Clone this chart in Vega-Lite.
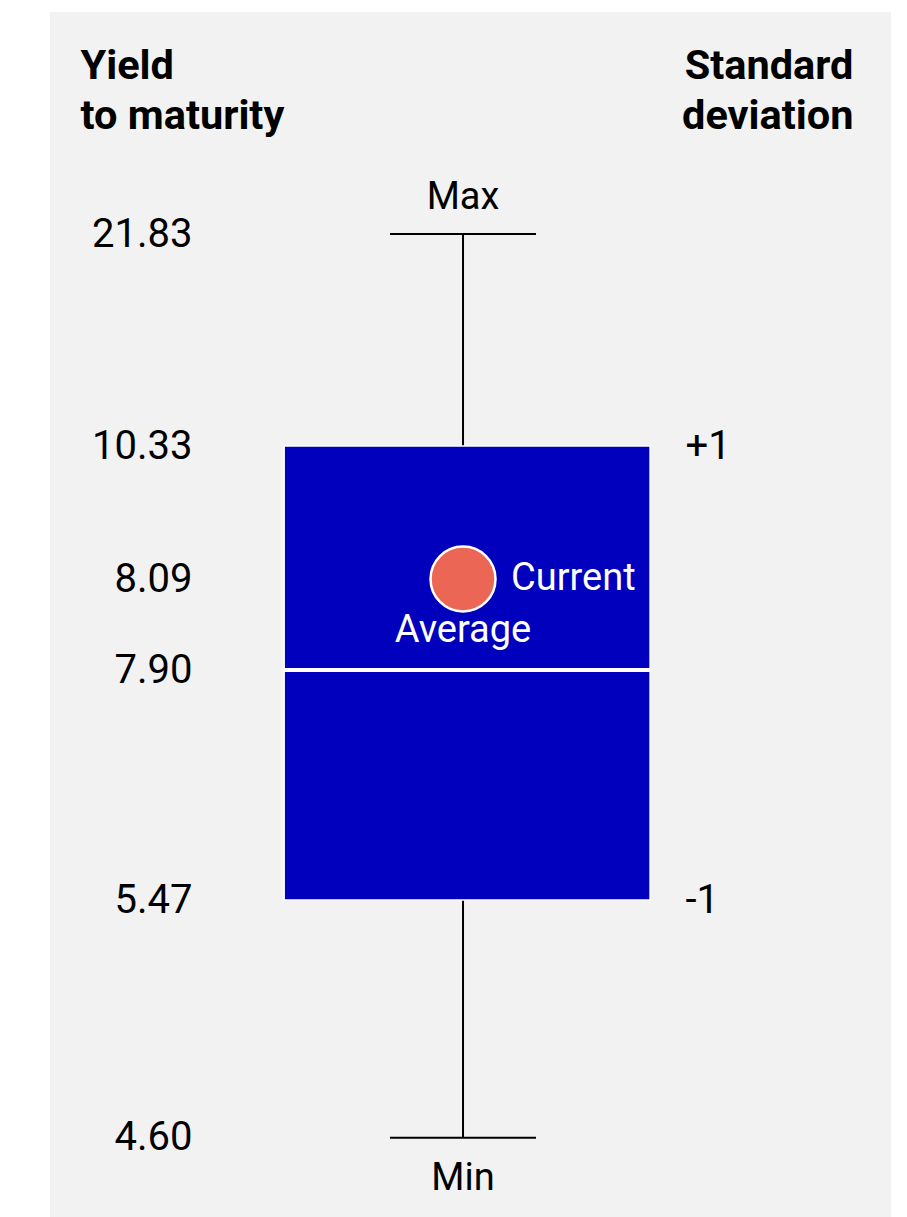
{
  "$schema": "https://vega.github.io/schema/vega-lite/v6.json",
  "width": 841,
  "height": 1205,
  "autosize": {"type": "none"},
  "padding": {"left": 50, "top": 12, "right": 16, "bottom": 0},
  "background": "#ffffff",
  "config": {
    "view": {"stroke": null, "fill": "#f2f2f2"},
    "font": "Roboto"
  },
  "data": {"values": [{"min": 4.60, "lower": 5.47, "average": 7.90, "current": 8.09, "upper": 10.33, "max": 21.83}]},
  "resolve": {"scale": {"y": "independent"}, "axis": {"y": "independent"}},
  "layer": [
    {
      "mark": {"type": "rule", "color": "#000000", "strokeWidth": 2},
      "encoding": {
        "x": {"datum": 0, "type": "quantitative", "scale": {"domain": [-2.263, 2.345], "nice": false, "zero": false}, "axis": null},
        "y": {
          "field": "min", "type": "quantitative",
          "scale": {"domain": [4.60, 5.47, 7.90, 8.09, 10.33, 21.83], "range": [1125.7, 888, 658, 567, 434, 222], "nice": false, "zero": false},
          "axis": {
            "orient": "left",
            "values": [4.60, 5.47, 7.90, 8.09, 10.33, 21.83],
            "format": ".2f",
            "domain": false, "ticks": false, "grid": false,
            "offset": -142, "labelPadding": 0,
            "labelAlign": "right", "labelBaseline": "middle",
            "labelFont": "Roboto", "labelFontSize": 40, "labelColor": "#000000",
            "labelOverlap": false, "labelFlush": false, "labelBound": false,
            "title": ["Yield", "to maturity"],
            "titleFont": "Roboto", "titleFontSize": 41.5, "titleFontWeight": "bold", "titleColor": "#000000",
            "titleAngle": 0, "titleAlign": "left", "titleBaseline": "alphabetic",
            "titleX": -112, "titleY": 66, "titleLineHeight": 50
          }
        },
        "y2": {"field": "max"}
      }
    },
    {
      "mark": {"type": "rule", "color": "#000000", "strokeWidth": 2},
      "encoding": {
        "x": {"datum": -0.4, "type": "quantitative"},
        "x2": {"datum": 0.4},
        "y": {"field": "max", "type": "quantitative", "scale": {"domain": [4.60, 5.47, 7.90, 8.09, 10.33, 21.83], "range": [1125.7, 888, 658, 567, 434, 222], "nice": false, "zero": false}, "axis": null}
      }
    },
    {
      "mark": {"type": "rule", "color": "#000000", "strokeWidth": 2},
      "encoding": {
        "x": {"datum": -0.4, "type": "quantitative"},
        "x2": {"datum": 0.4},
        "y": {"field": "min", "type": "quantitative", "scale": {"domain": [4.60, 5.47, 7.90, 8.09, 10.33, 21.83], "range": [1125.7, 888, 658, 567, 434, 222], "nice": false, "zero": false}, "axis": null}
      }
    },
    {
      "mark": {"type": "text", "text": "Max", "font": "Roboto", "fontSize": 38, "color": "#000000", "align": "center", "baseline": "alphabetic", "dy": -25},
      "encoding": {
        "x": {"datum": 0, "type": "quantitative"},
        "y": {"field": "max", "type": "quantitative", "scale": {"domain": [4.60, 5.47, 7.90, 8.09, 10.33, 21.83], "range": [1125.7, 888, 658, 567, 434, 222], "nice": false, "zero": false}, "axis": null}
      }
    },
    {
      "mark": {"type": "text", "text": "Min", "font": "Roboto", "fontSize": 38, "color": "#000000", "align": "center", "baseline": "alphabetic", "dy": 52},
      "encoding": {
        "x": {"datum": 0, "type": "quantitative"},
        "y": {"field": "min", "type": "quantitative", "scale": {"domain": [4.60, 5.47, 7.90, 8.09, 10.33, 21.83], "range": [1125.7, 888, 658, 567, 434, 222], "nice": false, "zero": false}, "axis": null}
      }
    },
    {
      "mark": {"type": "rect", "color": "#0000bd", "stroke": "#ffffff", "strokeWidth": 1.5},
      "encoding": {
        "x": {"datum": -0.98, "type": "quantitative"},
        "x2": {"datum": 1.025},
        "y": {
          "field": "lower", "type": "quantitative",
          "scale": {"domain": [4.60, 5.47, 7.90, 8.09, 10.33, 21.83], "range": [1125.7, 888, 658, 567, 434, 222], "nice": false, "zero": false},
          "axis": {
            "orient": "right",
            "values": [5.47, 10.33],
            "labelExpr": "datum.value > 8 ? '+1' : '-1'",
            "domain": false, "ticks": false, "grid": false,
            "offset": -206, "labelPadding": 0,
            "labelAlign": "left", "labelBaseline": "middle",
            "labelFont": "Roboto", "labelFontSize": 40, "labelColor": "#000000",
            "labelOverlap": false, "labelFlush": false, "labelBound": false,
            "title": ["Standard", "deviation"],
            "titleFont": "Roboto", "titleFontSize": 41.5, "titleFontWeight": "bold", "titleColor": "#000000",
            "titleAngle": 0, "titleAlign": "right", "titleBaseline": "alphabetic",
            "titleX": 168, "titleY": 66, "titleLineHeight": 50
          }
        },
        "y2": {"field": "upper"}
      }
    },
    {
      "mark": {"type": "rule", "color": "#ffffff", "strokeWidth": 4},
      "encoding": {
        "x": {"datum": -0.98, "type": "quantitative"},
        "x2": {"datum": 1.025},
        "y": {"field": "average", "type": "quantitative", "scale": {"domain": [4.60, 5.47, 7.90, 8.09, 10.33, 21.83], "range": [1125.7, 888, 658, 567, 434, 222], "nice": false, "zero": false}, "axis": null}
      }
    },
    {
      "mark": {"type": "point", "shape": "circle", "filled": true, "fill": "#ec6656", "stroke": "#ffffff", "strokeWidth": 2.5, "opacity": 1, "fillOpacity": 1, "size": 4225},
      "encoding": {
        "x": {"datum": 0, "type": "quantitative"},
        "y": {"field": "current", "type": "quantitative", "scale": {"domain": [4.60, 5.47, 7.90, 8.09, 10.33, 21.83], "range": [1125.7, 888, 658, 567, 434, 222], "nice": false, "zero": false}, "axis": null}
      }
    },
    {
      "mark": {"type": "text", "text": "Current", "font": "Roboto", "fontSize": 38, "color": "#ffffff", "align": "left", "baseline": "middle", "dx": 48},
      "encoding": {
        "x": {"datum": 0, "type": "quantitative"},
        "y": {"field": "current", "type": "quantitative", "scale": {"domain": [4.60, 5.47, 7.90, 8.09, 10.33, 21.83], "range": [1125.7, 888, 658, 567, 434, 222], "nice": false, "zero": false}, "axis": null}
      }
    },
    {
      "mark": {"type": "text", "text": "Average", "font": "Roboto", "fontSize": 38, "color": "#ffffff", "align": "center", "baseline": "alphabetic", "dy": -28},
      "encoding": {
        "x": {"datum": 0, "type": "quantitative"},
        "y": {"field": "average", "type": "quantitative", "scale": {"domain": [4.60, 5.47, 7.90, 8.09, 10.33, 21.83], "range": [1125.7, 888, 658, 567, 434, 222], "nice": false, "zero": false}, "axis": null}
      }
    }
  ]
}
